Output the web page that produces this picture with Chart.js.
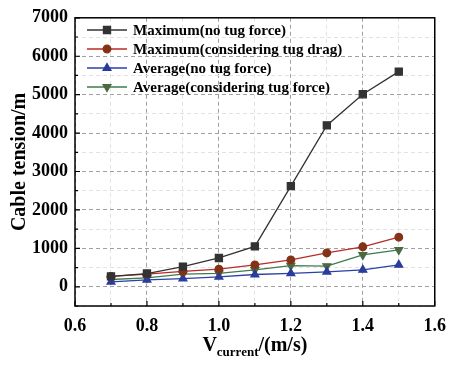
<!DOCTYPE html>
<html>
<head>
<meta charset="utf-8">
<script src="https://cdn.jsdelivr.net/npm/chart.js@4/dist/chart.umd.min.js"></script>
<style>
  html, body { margin: 0; padding: 0; background: #fff; }
  #wrap { width: 456px; height: 366px; }
</style>
</head>
<body>
<div id="wrap"><canvas id="c"></canvas></div>
<script>
var speeds = [0.7, 0.8, 0.9, 1.0, 1.1, 1.2, 1.3, 1.4, 1.5];
var maxNoTug = [270, 345, 525, 750, 1050, 2620, 4200, 5010, 5600];
var maxTugDrag = [270, 330, 400, 460, 570, 700, 880, 1040, 1290];
var avgNoTug = [130, 180, 215, 260, 320, 350, 390, 440, 570];
var avgTugForce = [190, 230, 330, 350, 440, 550, 540, 830, 960];
var xTicks = [0.6, 0.8, 1.0, 1.2, 1.4, 1.6];
var yTicks = [0, 1000, 2000, 3000, 4000, 5000, 6000, 7000];

var FONT = "'Liberation Serif', 'Times New Roman', serif";

function pts(vals) {
  return vals.map(function (v, i) { return { x: speeds[i], y: v }; });
}
function series(label, vals, line, mark, style, rot, r) {
  return {
    label: label, data: pts(vals),
    borderColor: line, backgroundColor: mark,
    pointBackgroundColor: mark, pointBorderColor: mark,
    pointStyle: style, pointRotation: rot, pointRadius: r, pointHoverRadius: r,
    borderWidth: 1.3, tension: 0
  };
}
function near(v, list) {
  return list.some(function (t) { return Math.abs(t - v) < 1e-6; });
}

var framePlugin = {
  id: 'frame',
  afterDraw: function (chart) {
    var ctx = chart.ctx, a = chart.chartArea;
    var xs = chart.scales.x, ys = chart.scales.y;
    ctx.save();
    ctx.strokeStyle = '#000';
    ctx.lineWidth = 1.5;
    ctx.strokeRect(a.left, a.top, a.right - a.left, a.bottom - a.top);
    // inward ticks
    ctx.lineWidth = 1.2;
    ctx.beginPath();
    xs.ticks.forEach(function (t) {
      var px = xs.getPixelForValue(t.value);
      var len = near(t.value, xTicks) ? 5 : 3;
      ctx.moveTo(px, a.bottom); ctx.lineTo(px, a.bottom - len);
    });
    ys.ticks.forEach(function (t) {
      var py = ys.getPixelForValue(t.value);
      var len = near(t.value, yTicks) ? 5 : 3;
      ctx.moveTo(a.left, py); ctx.lineTo(a.left + len, py);
    });
    ctx.stroke();

    // legend
    ctx.font = 'bold 15px ' + FONT;
    ctx.textBaseline = 'middle';
    ctx.textAlign = 'left';
    chart.data.datasets.forEach(function (d, i) {
      var y = 30 + i * 19;
      ctx.strokeStyle = d.borderColor;
      ctx.lineWidth = 1.3;
      ctx.beginPath(); ctx.moveTo(87, y); ctx.lineTo(127, y); ctx.stroke();
      ctx.fillStyle = d.pointBackgroundColor;
      ctx.strokeStyle = d.pointBorderColor;
      Chart.helpers.drawPoint(ctx, { pointStyle: d.pointStyle, rotation: d.pointRotation, radius: d.pointRadius, borderWidth: 1 }, 107, y);
      ctx.fillStyle = '#000';
      ctx.fillText(d.label, 133, y + 1);
    });

    // axis titles
    ctx.fillStyle = '#000';
    ctx.save();
    ctx.translate(20, (a.top + a.bottom) / 2);
    ctx.rotate(-Math.PI / 2);
    ctx.textAlign = 'center';
    ctx.font = 'bold 20px ' + FONT;
    ctx.fillText('Cable tension/m', 0, 0);
    ctx.restore();

    var cx = (a.left + a.right) / 2;
    var p1 = 'V', p2 = 'current', p3 = '/(m/s)';
    ctx.font = 'bold 20px ' + FONT;
    var w1 = ctx.measureText(p1).width, w3 = ctx.measureText(p3).width;
    ctx.font = 'bold 13px ' + FONT;
    var w2 = ctx.measureText(p2).width;
    var x0 = cx - (w1 + w2 + w3) / 2;
    ctx.textAlign = 'left';
    ctx.textBaseline = 'alphabetic';
    ctx.font = 'bold 20px ' + FONT;
    ctx.fillText(p1, x0, 351);
    ctx.font = 'bold 13px ' + FONT;
    ctx.fillText(p2, x0 + w1, 356);
    ctx.font = 'bold 20px ' + FONT;
    ctx.fillText(p3, x0 + w1 + w2, 351);
    ctx.restore();
  }
};

function gridColor(list) {
  return function (c) {
    if (!c.tick) return 'rgba(0,0,0,0)';
    return near(c.tick.value, list) ? '#a0a0a0' : '#e2e2e2';
  };
}

new Chart(document.getElementById('c'), {
  type: 'line',
  data: {
    datasets: [
      series('Maximum(no tug force)', maxNoTug, '#333333', '#333333', 'rect', 0, 5),
      series('Maximum(considering tug drag)', maxTugDrag, '#bb2a26', '#843216', 'circle', 0, 3.8),
      series('Average(no tug force)', avgNoTug, '#2a40a8', '#2a3c9c', 'triangle', 0, 4.5),
      series('Average(considering tug force)', avgTugForce, '#3f7a4c', '#4a6a42', 'triangle', 180, 4.5)
    ]
  },
  options: {
    responsive: true,
    maintainAspectRatio: false,
    animation: false,
    layout: { padding: { left: 0, right: 20, top: 15, bottom: 0 } },
    plugins: { legend: { display: false }, tooltip: { enabled: false } },
    scales: {
      x: {
        type: 'linear', min: 0.6, max: 1.6,
        afterFit: function (s) { s.height = 60; },
        border: { display: false, dash: [4, 3] },
        grid: { color: gridColor(xTicks), drawTicks: false, lineWidth: 1 },
        ticks: {
          stepSize: 0.1, autoSkip: false, maxRotation: 0, padding: 10, color: '#000',
          font: { family: FONT, size: 18, weight: 'bold' },
          callback: function (v) { return near(v, xTicks) ? v.toFixed(1) : ''; }
        }
      },
      y: {
        min: -500, max: 7000,
        afterFit: function (s) { s.width = 75; },
        border: { display: false, dash: [4, 3] },
        grid: { color: gridColor(yTicks), drawTicks: false, lineWidth: 1 },
        ticks: {
          stepSize: 500, autoSkip: false, padding: 7, color: '#000',
          font: { family: FONT, size: 18, weight: 'bold' },
          callback: function (v) { return near(v, yTicks) ? String(v) : ''; }
        }
      }
    }
  },
  plugins: [framePlugin]
});
</script>
</body>
</html>
